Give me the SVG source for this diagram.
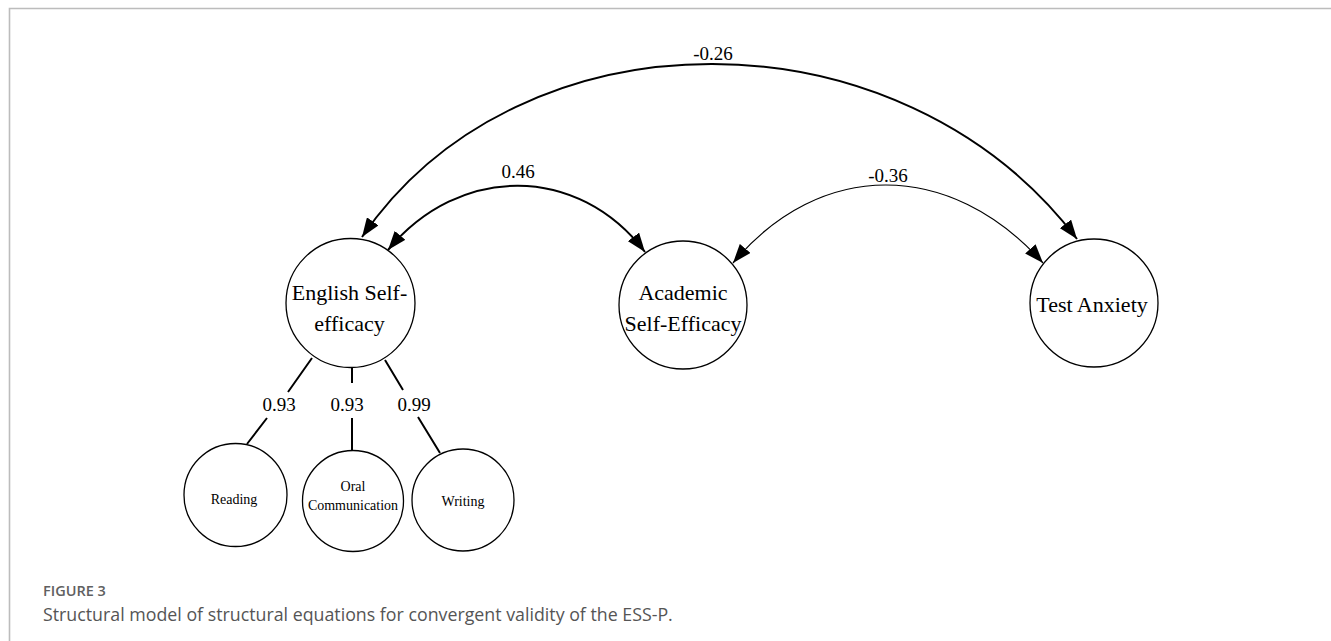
<svg xmlns="http://www.w3.org/2000/svg" width="1331" height="641" viewBox="0 0 1331 641">
<defs>
<style>
.node{fill:#fff;stroke:#000;stroke-width:1.3}
.big{font-family:"Liberation Serif","Times New Roman",serif;font-size:22px;fill:#000;text-anchor:middle}
.small{font-family:"Liberation Serif","Times New Roman",serif;font-size:14px;fill:#000;text-anchor:middle}
.lbl{font-family:"Liberation Serif","Times New Roman",serif;font-size:19px;fill:#000;text-anchor:middle}
.cov{fill:none;stroke:#000;stroke-width:2}
.thin{stroke-width:1.2}
.load{stroke:#000;stroke-width:2;fill:none}
.frame{stroke:#bcbcbc;stroke-width:1.6;fill:none}
.cap{font-family:"Open Sans","Noto Sans",sans-serif}
</style>
<marker id="ah" markerUnits="userSpaceOnUse" markerWidth="20" markerHeight="14" refX="19" refY="7" orient="auto-start-reverse" viewBox="0 0 20 14">
<path d="M0,0 L19,7 L0,14 Z" fill="#000"/>
</marker>
</defs>
<rect x="0" y="0" width="1331" height="641" fill="#fff"/>
<path class="frame" d="M9.5,641 V8.5 H1331"/>

<g id="connectors">
<path class="cov" d="M362,237 C520,6 900,6 1077,239" marker-start="url(#ah)" marker-end="url(#ah)"/>
<path class="cov" d="M388,250 C459,164 578,164 645,252" marker-start="url(#ah)" marker-end="url(#ah)"/>
<path class="cov thin" d="M733,263 C820,159 950,159 1043,263" marker-start="url(#ah)" marker-end="url(#ah)"/>
<text class="lbl" x="713" y="60">-0.26</text>
<text class="lbl" x="518" y="178">0.46</text>
<text class="lbl" x="888" y="182">-0.36</text>
<path class="load" d="M312,358 L288,392 M267,418 L247,444"/>
<path class="load" d="M352,368 V383 M352,418 V450"/>
<path class="load" d="M385,360 L403,390 M418,417 L440,453"/>
<text class="lbl" x="279" y="411">0.93</text>
<text class="lbl" x="347" y="411">0.93</text>
<text class="lbl" x="414" y="411">0.99</text>
</g>

<g id="english">
<circle class="node" cx="350.5" cy="303" r="64.5"/>
<text class="big" x="349.5" y="300">English Self-</text>
<text class="big" x="349.5" y="331">efficacy</text>
</g>
<g id="academic">
<circle class="node" cx="683" cy="305" r="64"/>
<text class="big" x="683" y="300">Academic</text>
<text class="big" x="683" y="331">Self-Efficacy</text>
</g>
<g id="anxiety">
<circle class="node" cx="1094" cy="303" r="64"/>
<text class="big" x="1092" y="312">Test Anxiety</text>
</g>
<g id="reading">
<circle class="node" cx="235.5" cy="495" r="51.5"/>
<text class="small" x="234" y="504">Reading</text>
</g>
<g id="oral">
<circle class="node" cx="353" cy="501" r="50.5"/>
<text class="small" x="353" y="491">Oral</text>
<text class="small" x="353" y="510">Communication</text>
</g>
<g id="writing">
<circle class="node" cx="463" cy="500" r="51"/>
<text class="small" x="463" y="506">Writing</text>
</g>

<g id="caption">
<text class="cap" x="43" y="596" font-size="14.5" font-weight="600" fill="#606060">FIGURE 3</text>
<text class="cap" x="43" y="621" font-size="17.8" fill="#555">Structural model of structural equations for convergent validity of the ESS-P.</text>
</g>
</svg>
